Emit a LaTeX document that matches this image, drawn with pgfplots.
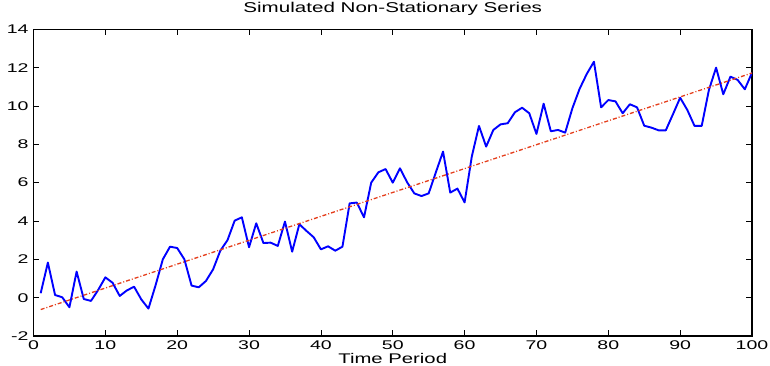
\documentclass[border=0pt]{standalone}
\usepackage{pgfplots}
\pgfplotsset{compat=1.18}
\usepackage{fontspec}
\newfontfamily\tickfont[FakeStretch=1.55]{Liberation Sans}
\newfontfamily\labfont[FakeStretch=1.45]{Liberation Sans}
\definecolor{trendred}{RGB}{228,62,28}
\begin{document}
\begin{tikzpicture}
\begin{axis}[
  scale only axis,
  width=718.5pt, height=306.7pt,
  xmin=0, xmax=100, ymin=-2, ymax=14,
  xtick={0,10,...,100},
  xticklabels={0,10,20,30,40,50,60,70,80,90,100},
  ytick={-2,0,...,14},
  yticklabels={-2,0,2,4,6,8,10,12,14},
  tick align=inside,
  major tick length=6pt,
  tick style={black, line width=0.8pt},
  axis line style={black, line width=1.1pt},
  xticklabel style={font=\tickfont\fontsize{12.6}{12.6}\selectfont, anchor=base, inner sep=0pt, yshift=-13.4pt, text depth=0pt},
  yticklabel style={font=\tickfont\fontsize{12.6}{12.6}\selectfont, anchor=east, inner sep=0pt, xshift=-4.8pt},
  title={Simulated Non-Stationary Series},
  title style={font=\labfont\fontsize{14.2}{14.2}\selectfont, at={(axis description cs:0.5,1)}, anchor=base, inner sep=0pt, yshift=10.3pt},
  xlabel={Time Period},
  xlabel style={font=\labfont\fontsize{14}{14}\selectfont, at={(axis description cs:0.5,0)}, anchor=base, inner sep=0pt, yshift=-27.3pt, text height=10.1pt, text depth=0pt},
]
\addplot[blue, line width=1.9pt, line join=round] table {
1 0.23
2 1.83
3 0.14
4 0.02
5 -0.50
6 1.36
7 -0.07
8 -0.17
9 0.40
10 1.06
11 0.78
12 0.09
13 0.38
14 0.57
15 -0.09
16 -0.57
17 0.66
18 2.00
19 2.66
20 2.59
21 2.00
22 0.63
23 0.54
24 0.87
25 1.48
26 2.45
27 3.00
28 4.02
29 4.19
30 2.63
31 3.88
32 2.85
33 2.87
34 2.70
35 3.97
36 2.40
37 3.83
38 3.48
39 3.15
40 2.52
41 2.68
42 2.45
43 2.66
44 4.92
45 4.96
46 4.19
47 6.00
48 6.54
49 6.71
50 6.00
51 6.75
52 6.02
53 5.44
54 5.30
55 5.44
56 6.54
57 7.62
58 5.48
59 5.69
60 4.97
61 7.36
62 8.96
63 7.88
64 8.75
65 9.04
66 9.10
67 9.67
68 9.91
69 9.62
70 8.54
71 10.12
72 8.68
73 8.75
74 8.61
75 9.88
76 10.89
77 11.67
78 12.31
79 9.93
80 10.31
81 10.24
82 9.62
83 10.09
84 9.93
85 8.97
86 8.87
87 8.73
88 8.73
89 9.57
90 10.43
91 9.79
92 8.96
93 8.96
94 10.83
95 12.00
96 10.61
97 11.53
98 11.36
99 10.87
100 11.74
};
\addplot[trendred, line width=1.3pt, dash pattern=on 4pt off 2pt on 1pt off 2pt] coordinates {(1,-0.62) (100,11.72)};
\end{axis}
\pgfresetboundingbox
\useasboundingbox ([xshift=-33.5pt,yshift=-29pt]current axis.south west) rectangle ([xshift=18pt,yshift=29.3pt]current axis.north east);
\end{tikzpicture}
\end{document}
